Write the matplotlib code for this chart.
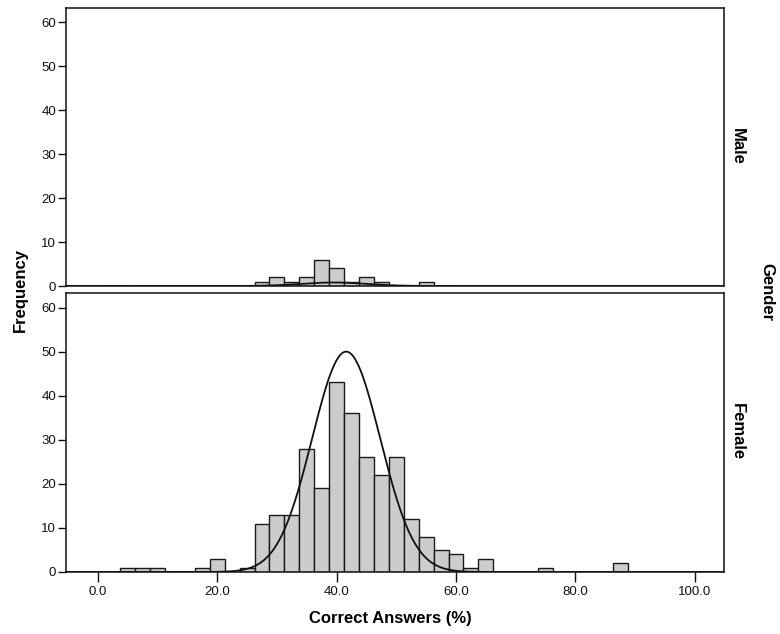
import numpy as np
import matplotlib
matplotlib.use("Agg")
import matplotlib.pyplot as plt

plt.rcParams['font.family'] = ['Liberation Sans', 'DejaVu Sans']

# Histogram bins (centres, width 2.5) and frequencies per gender
bin_width = 2.5
male_centers = [27.5, 30.0, 32.5, 35.0, 37.5, 40.0, 42.5, 45.0, 47.5, 55.0]
male_counts = [1, 2, 1, 2, 6, 4, 1, 2, 1, 1]

female_centers = [5.0, 7.5, 10.0, 17.5, 20.0, 25.0, 27.5, 30.0, 32.5, 35.0,
                  37.5, 40.0, 42.5, 45.0, 47.5, 50.0, 52.5, 55.0, 57.5, 60.0,
                  62.5, 65.0, 75.0, 87.5]
female_counts = [1, 1, 1, 1, 3, 1, 11, 13, 13, 28,
                 19, 43, 36, 26, 22, 26, 12, 8, 5, 4,
                 1, 3, 1, 2]

# Fitted normal curves: mean, standard deviation, peak height
male_curve = (39.5, 5.5, 0.8)
female_curve = (41.6, 5.7, 50.0)

x_ticks = [0, 20, 40, 60, 80, 100]
y_ticks = [0, 10, 20, 30, 40, 50, 60]

W, H = 780, 634
fig = plt.figure(figsize=(W / 100, H / 100), dpi=100)


def px_axes(left, top, right, bottom):
    return fig.add_axes([left / W, 1 - bottom / H, (right - left) / W, (bottom - top) / H])


ax_m = px_axes(66, 8, 724, 286)
ax_f = px_axes(66, 293, 724, 572)

bar_color = '#cccccc'
for ax, centers, counts, curve in [(ax_m, male_centers, male_counts, male_curve),
                                   (ax_f, female_centers, female_counts, female_curve)]:
    ax.bar(centers, counts, width=bin_width, color=bar_color,
           edgecolor='#1a1a1a', linewidth=1.0, zorder=2)
    mu, sd, peak = curve
    xs = np.linspace(-5.34, 104.9, 600)
    ax.plot(xs, peak * np.exp(-0.5 * ((xs - mu) / sd) ** 2), color='#111111',
            linewidth=1.3, zorder=3)
    ax.set_xlim(-5.34, 104.9)
    ax.set_ylim(0, 63.3)
    ax.set_yticks(y_ticks)
    ax.set_yticklabels([str(v) for v in y_ticks])
    ax.tick_params(axis='y', direction='out', length=6, width=1.0,
                   labelsize=9.5, pad=1, colors='#111111')
    for s in ax.spines.values():
        s.set_linewidth(1.1)
        s.set_color('#111111')

ax_m.set_xticks([])
ax_f.set_xticks(x_ticks)
ax_f.set_xticklabels([f"{v:.1f}" for v in x_ticks])
ax_f.tick_params(axis='x', direction='out', length=7, width=1.0,
                 labelsize=9.5, pad=3, colors='#111111')


def ftext(x, y, s, **kw):
    fig.text(x / W, 1 - y / H, s, ha='center', va='center', **kw)


ftext(20, 290, 'Frequency', rotation=90, fontsize=12, fontweight='bold')
ftext(390, 619, 'Correct Answers (%)', fontsize=12, fontweight='bold')
ftext(767, 292, 'Gender', rotation=-90, fontsize=12, fontweight='bold')
ftext(737, 146, 'Male', rotation=-90, fontsize=12, fontweight='bold')
ftext(737, 432, 'Female', rotation=-90, fontsize=12, fontweight='bold')

fig.savefig('out.png', dpi=100)
